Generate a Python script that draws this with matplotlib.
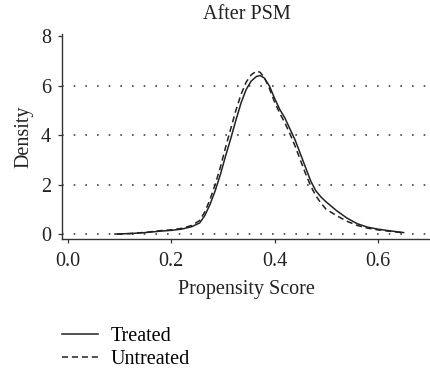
import numpy as np
import matplotlib
matplotlib.use("Agg")
from matplotlib import pyplot as plt

plt.rcParams['font.family'] = ['Liberation Serif', 'DejaVu Serif']

# density curves
x_treated = [0.091, 0.12, 0.15, 0.18, 0.20, 0.22, 0.24, 0.255, 0.265, 0.275,
             0.285, 0.295, 0.305, 0.315, 0.325, 0.335, 0.345, 0.355, 0.365, 0.372,
             0.38, 0.39, 0.40, 0.41, 0.42, 0.43, 0.44, 0.45, 0.46, 0.47,
             0.48, 0.49, 0.50, 0.52, 0.54, 0.56, 0.58, 0.60, 0.62, 0.65]
y_treated = [0.00, 0.02, 0.06, 0.12, 0.15, 0.20, 0.30, 0.45, 0.75, 1.20,
             1.75, 2.40, 3.15, 3.85, 4.60, 5.30, 5.85, 6.20, 6.38, 6.42,
             6.32, 6.00, 5.50, 5.05, 4.70, 4.25, 3.80, 3.25, 2.70, 2.15,
             1.75, 1.50, 1.30, 0.95, 0.65, 0.42, 0.28, 0.20, 0.14, 0.06]

x_untreated = [0.095, 0.12, 0.15, 0.18, 0.20, 0.22, 0.24, 0.255, 0.265, 0.275,
               0.285, 0.295, 0.305, 0.315, 0.325, 0.335, 0.345, 0.355, 0.365, 0.372,
               0.38, 0.39, 0.40, 0.41, 0.42, 0.43, 0.44, 0.45, 0.46, 0.47,
               0.48, 0.49, 0.50, 0.52, 0.54, 0.56, 0.58, 0.60, 0.62, 0.65]
y_untreated = [0.00, 0.02, 0.07, 0.14, 0.17, 0.23, 0.35, 0.55, 0.90, 1.40,
               2.00, 2.70, 3.50, 4.25, 5.00, 5.65, 6.15, 6.45, 6.60, 6.55,
               6.35, 5.90, 5.35, 4.90, 4.50, 4.05, 3.55, 3.00, 2.45, 1.95,
               1.55, 1.25, 1.00, 0.75, 0.52, 0.35, 0.24, 0.17, 0.12, 0.05]

xticks = [0.0, 0.2, 0.4, 0.6]
yticks = [0, 2, 4, 6, 8]
grid_levels = [0, 2, 4, 6]

fs = 14.5

fig = plt.figure(figsize=(4.31, 3.68), dpi=100)
ax = fig.add_axes([62/431, 1 - 239/368, 1 - 62/431, (239 - 34)/368])

for g in grid_levels:
    ax.axhline(g, color='#444444', lw=1.2, ls=(0, (1, 6)), zorder=0)

ax.plot(x_treated, y_treated, color='#222222', lw=1.1, label='Treated')
ax.plot(x_untreated, y_untreated, color='#222222', lw=1.1, ls=(0, (4, 2.5)),
        label='Untreated')

ax.set_xlim(-0.0116, 0.703)
ax.set_ylim(-0.2, 8.1)
ax.set_xticks(xticks)
ax.set_xticklabels([f'{t:.1f}' for t in xticks])
ax.set_yticks(yticks)
for s in ['top', 'right']:
    ax.spines[s].set_visible(False)
for s in ['left', 'bottom']:
    ax.spines[s].set_color('#333333')
    ax.spines[s].set_linewidth(1.0)
ax.tick_params(direction='out', length=3, width=0.9, color='#333333',
               labelsize=fs, labelcolor='#222222')
ax.tick_params(axis='x', pad=6)
ax.tick_params(axis='y', pad=5)

ax.set_xlabel('Propensity Score', fontsize=fs, color='#222222', labelpad=7)
ax.set_ylabel('Density', fontsize=fs, color='#222222', labelpad=5)
ax.set_title('After PSM', fontsize=fs, color='#222222', pad=11)

fig.legend(loc='upper left', bbox_to_anchor=(54/431, 1 - 319/368),
           frameon=False, fontsize=fs, handlelength=1.8, handletextpad=0.6,
           labelspacing=0.2, borderaxespad=0)

fig.savefig('out.png', dpi=100)
